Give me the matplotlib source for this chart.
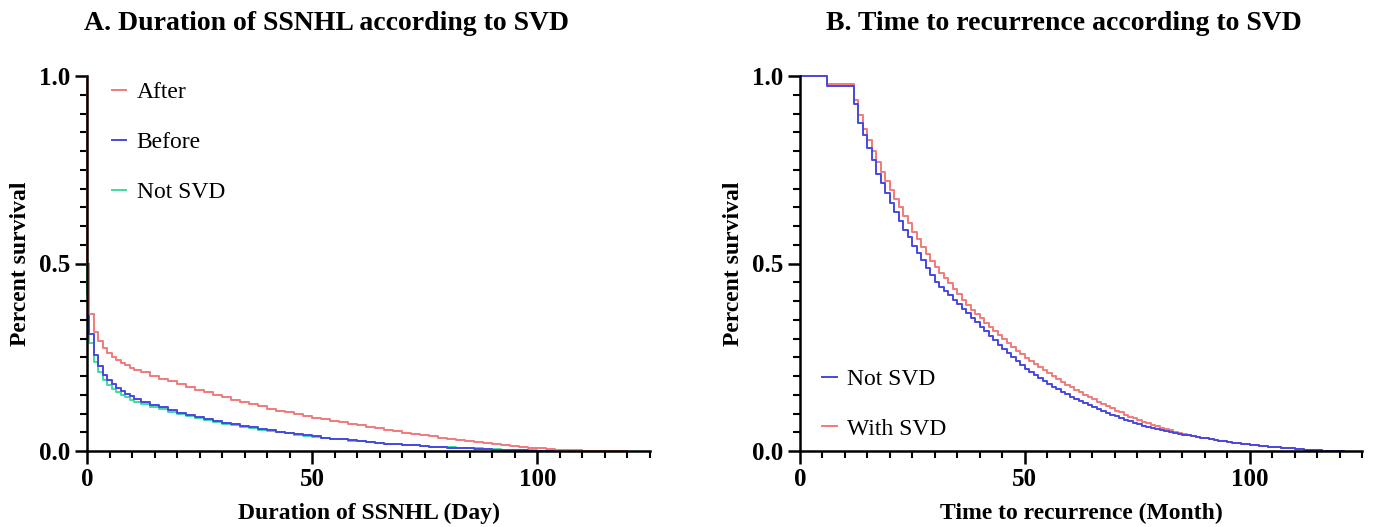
import matplotlib
matplotlib.use("Agg")
import matplotlib.pyplot as plt
from matplotlib.ticker import MultipleLocator

plt.rcParams['font.family'] = ['Liberation Serif', 'DejaVu Serif']

# ---- panel A: duration of SSNHL (days) ----
days = [0, 0.05, 0.5, 1.5, 2.5, 3.5, 4.5, 5.5, 6.5, 7.5, 8.5, 9.5, 10.5] + list(range(12, 122, 2))
after = [1.0, 0.50, 0.365, 0.318, 0.294, 0.274, 0.262, 0.252, 0.243, 0.236, 0.229, 0.222, 0.216,
         0.21, 0.201, 0.193, 0.186, 0.179, 0.171, 0.164, 0.157, 0.150, 0.143,
         0.137, 0.131, 0.125, 0.119, 0.113, 0.108, 0.103, 0.098, 0.093, 0.089,
         0.085, 0.081, 0.077, 0.073, 0.069, 0.065, 0.061, 0.057, 0.053, 0.049,
         0.045, 0.042, 0.039, 0.036, 0.033, 0.030, 0.027, 0.024, 0.021, 0.018,
         0.015, 0.013, 0.011, 0.009, 0.007, 0.006, 0.004, 0.003, 0.002, 0.001,
         0.0, 0.0, 0.0, 0.0, 0.0]
before = [1.0, 0.50, 0.312, 0.256, 0.227, 0.203, 0.19, 0.178, 0.168, 0.16, 0.153, 0.146, 0.14,
          0.132, 0.124, 0.117, 0.11, 0.102, 0.096, 0.09, 0.085, 0.08, 0.075,
          0.071, 0.067, 0.063, 0.059, 0.055, 0.052, 0.048, 0.045, 0.042, 0.039,
          0.036, 0.033, 0.031, 0.029, 0.026, 0.024, 0.022, 0.02, 0.018, 0.016,
          0.015, 0.013, 0.012, 0.011, 0.009, 0.008, 0.007, 0.006, 0.005, 0.004,
          0.003, 0.003, 0.002, 0.001, 0.001, 0.0, 0.0, 0.0, 0.0, 0.0,
          0.0, 0.0, 0.0, 0.0, 0.0]
not_svd_a = [1.0, 0.42, 0.288, 0.238, 0.211, 0.19, 0.177, 0.166, 0.157, 0.15, 0.143, 0.137, 0.132,
             0.125, 0.118, 0.111, 0.105, 0.099, 0.093, 0.087, 0.082, 0.077, 0.073,
             0.069, 0.065, 0.061, 0.057, 0.054, 0.05, 0.047, 0.044, 0.041, 0.038,
             0.035, 0.033, 0.031, 0.028, 0.026, 0.024, 0.022, 0.02, 0.018, 0.017,
             0.015, 0.014, 0.012, 0.011, 0.01, 0.009, 0.008, 0.007, 0.006, 0.005,
             0.004, 0.003, 0.003, 0.002, 0.001, 0.001, 0.0, 0.0, 0.0, 0.0,
             0.0, 0.0, 0.0, 0.0, 0.0]

# ---- panel B: time to recurrence (months) ----
months = [0, 6] + list(range(12, 122))
not_svd_b = [1.0, 0.973,
             0.925, 0.874, 0.843, 0.807, 0.776, 0.74, 0.714, 0.688, 0.662, 0.638,
             0.614, 0.589, 0.57, 0.547, 0.527, 0.509, 0.487, 0.469, 0.451, 0.438,
             0.427, 0.415, 0.404, 0.392, 0.379, 0.367, 0.355, 0.343, 0.331, 0.319,
             0.307, 0.295, 0.283, 0.272, 0.261, 0.25, 0.239, 0.229, 0.22, 0.211,
             0.203, 0.195, 0.187, 0.179, 0.172, 0.165, 0.158, 0.151, 0.145, 0.139,
             0.133, 0.127, 0.122, 0.117, 0.112, 0.107, 0.102, 0.097, 0.093, 0.088,
             0.084, 0.079, 0.075, 0.072, 0.068, 0.065, 0.062, 0.059, 0.056, 0.053,
             0.051, 0.048, 0.046, 0.044, 0.042, 0.04, 0.038, 0.036, 0.034, 0.032,
             0.03, 0.028, 0.026, 0.024, 0.022, 0.021, 0.019, 0.018, 0.016, 0.015,
             0.014, 0.013, 0.012, 0.011, 0.01, 0.009, 0.008, 0.007, 0.006, 0.005,
             0.004, 0.003, 0.002, 0.002, 0.001, 0.001, 0.0, 0.0, 0.0, 0.0]
with_svd = [1.0, 0.979,
            0.935, 0.895, 0.86, 0.83, 0.8, 0.77, 0.745, 0.72, 0.695, 0.672,
            0.65, 0.628, 0.607, 0.585, 0.565, 0.545, 0.525, 0.506, 0.49, 0.475,
            0.462, 0.447, 0.432, 0.418, 0.404, 0.39, 0.377, 0.365, 0.354, 0.342,
            0.331, 0.32, 0.309, 0.299, 0.288, 0.278, 0.268, 0.258, 0.249, 0.24,
            0.232, 0.223, 0.215, 0.207, 0.199, 0.191, 0.184, 0.177, 0.17, 0.163,
            0.157, 0.15, 0.144, 0.138, 0.132, 0.126, 0.12, 0.114, 0.108, 0.103,
            0.097, 0.092, 0.087, 0.083, 0.078, 0.074, 0.07, 0.066, 0.062, 0.058,
            0.055, 0.052, 0.049, 0.046, 0.043, 0.041, 0.038, 0.036, 0.034, 0.032,
            0.03, 0.028, 0.026, 0.024, 0.022, 0.021, 0.019, 0.018, 0.016, 0.015,
            0.014, 0.013, 0.012, 0.011, 0.01, 0.009, 0.008, 0.007, 0.006, 0.005,
            0.004, 0.003, 0.002, 0.002, 0.001, 0.001, 0.0, 0.0, 0.0, 0.0]

RED = '#f27a7a'
BLUE = '#4848e0'
GREEN = '#40dca0'

W, H = 1374, 527
fig = plt.figure(figsize=(W / 100, H / 100), dpi=100)
ax1 = fig.add_axes([87 / W, 1 - 451 / H, 563 / W, 375 / H])
ax2 = fig.add_axes([800 / W, 1 - 451 / H, 562 / W, 375 / H])


def style(ax, xlabel):
    ax.set_xlim(0, 125)
    ax.set_ylim(0, 1.0)
    for s in ['top', 'right']:
        ax.spines[s].set_visible(False)
    for s in ['left', 'bottom']:
        ax.spines[s].set_linewidth(1.8)
    ax.xaxis.set_major_locator(MultipleLocator(50))
    ax.xaxis.set_minor_locator(MultipleLocator(5))
    ax.yaxis.set_major_locator(MultipleLocator(0.5))
    ax.yaxis.set_minor_locator(MultipleLocator(0.05))
    ax.yaxis.set_major_formatter(plt.FormatStrFormatter('%.1f'))
    ax.tick_params(which='major', direction='out', length=9, width=1.8, labelsize=18, pad=3)
    ax.tick_params(which='minor', direction='out', length=5, width=1.5)
    for lab in ax.get_xticklabels() + ax.get_yticklabels():
        lab.set_fontweight('bold')
    ax.set_xlabel(xlabel, fontsize=17, fontweight='bold', labelpad=9)
    ax.set_ylabel('Percent survival', fontsize=17, fontweight='bold', labelpad=6)


lw = 1.4
leg_kw = dict(frameon=False, fontsize=17, handlelength=0.6, handletextpad=0.45,
              labelspacing=1.2, borderpad=0, borderaxespad=0)

l3, = ax1.step(days, not_svd_a, where='post', color=GREEN, lw=lw, label='Not SVD', clip_on=False)
l2, = ax1.step(days, before, where='post', color=BLUE, lw=lw, label='Before', clip_on=False)
l1, = ax1.step(days, after, where='post', color=RED, lw=lw, label='After', clip_on=False)
style(ax1, 'Duration of SSNHL (Day)')
ax1.legend(handles=[l1, l2, l3], loc='upper left', bbox_to_anchor=(0.044, 0.985), **leg_kw)

r2, = ax2.step(months, with_svd, where='post', color=RED, lw=lw, label='With SVD', clip_on=False)
r1, = ax2.step(months, not_svd_b, where='post', color=BLUE, lw=lw, label='Not SVD', clip_on=False)
style(ax2, 'Time to recurrence (Month)')
ax2.legend(handles=[r1, r2], loc='lower left', bbox_to_anchor=(0.04, 0.03), **leg_kw)

fig.text(327 / W, 1 - 23 / H, 'A. Duration of SSNHL according to SVD', ha='center', va='center',
         fontsize=20, fontweight='bold')
fig.text(1064 / W, 1 - 23 / H, 'B. Time to recurrence according to SVD', ha='center', va='center',
         fontsize=20, fontweight='bold')

fig.savefig('out.png', dpi=100)
